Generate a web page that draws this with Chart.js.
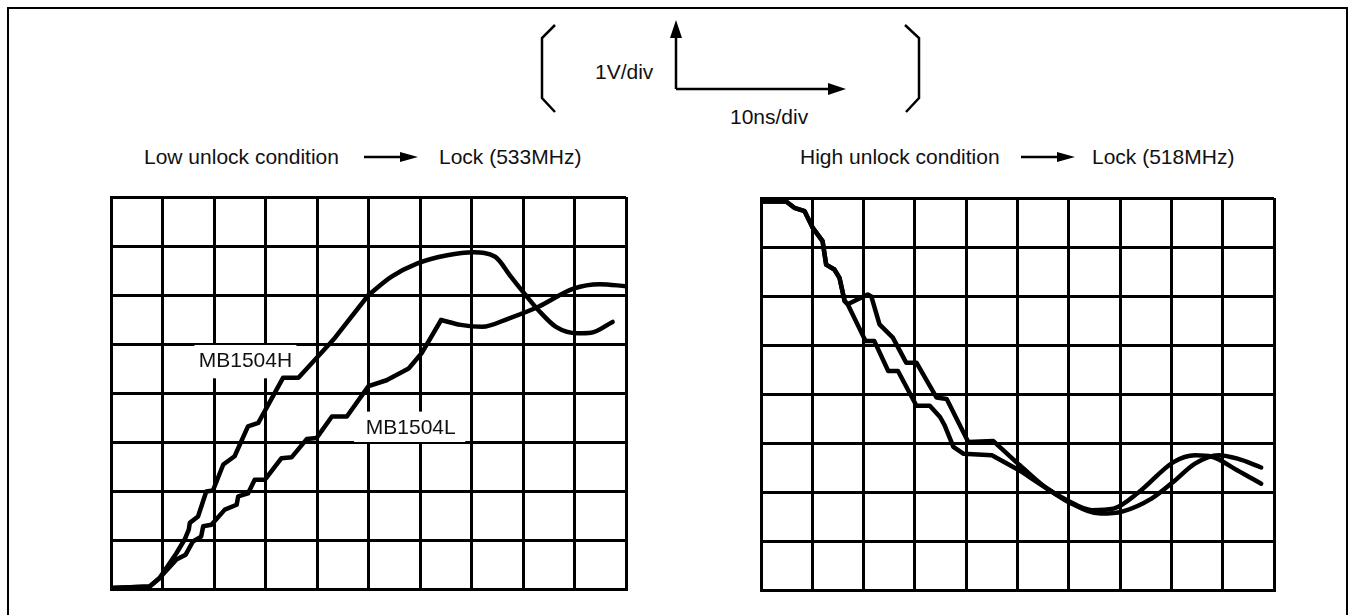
<!DOCTYPE html>
<html>
<head>
<meta charset="utf-8">
<script src="https://cdn.jsdelivr.net/npm/chart.js@4.4.1/dist/chart.umd.min.js"></script>
<style>
  html, body { margin: 0; padding: 0; background: #fff; overflow: hidden; }
  body { width: 1351px; height: 615px; position: relative; font-family: "Liberation Sans", Arial, sans-serif; }
  #frame { position: absolute; left: 7px; top: 7px; width: 1337px; height: 700px; border: 2px solid #000; }
  .txt { position: absolute; font-size: 21px; line-height: 24px; color: #111; white-space: nowrap; }
  canvas { position: absolute; }
  svg { position: absolute; left: 0; top: 0; }
</style>
</head>
<body>
<div id="frame"></div>

<svg width="1351" height="615">
  <g stroke="#000" stroke-width="2.5" fill="none">
    <polyline points="555,25 542,38 542,98 555,112" />
    <polyline points="905,25 919,38 919,98 906,112" />
    <line x1="676" y1="89" x2="676" y2="34" />
    <line x1="676" y1="89" x2="830" y2="89" />
    <line x1="364" y1="157" x2="404" y2="157" />
    <line x1="1021" y1="157" x2="1061" y2="157" />
  </g>
  <g fill="#000">
    <polygon points="676,20 670,38 682,38" />
    <polygon points="846,89 828,83 828,95" />
    <polygon points="418,157 400,152 400,162" />
    <polygon points="1075,157 1057,152 1057,162" />
  </g>
</svg>

<div class="txt" style="left:595px; top:60px;">1V/div</div>
<div class="txt" style="left:730px; top:105px;">10ns/div</div>
<div class="txt" style="left:144px; top:145px;">Low unlock condition</div>
<div class="txt" style="left:439px; top:145px;">Lock (533MHz)</div>
<div class="txt" style="left:800px; top:145px;">High unlock condition</div>
<div class="txt" style="left:1092px; top:145px;">Lock (518MHz)</div>

<canvas id="leftChart" width="523" height="400" style="left:107px; top:193px;"></canvas>
<canvas id="rightChart" width="521" height="400" style="left:757px; top:194px;"></canvas>

<script>
// Low unlock -> lock (533MHz), screen divisions (10 x 8)
const leftHX = [0, 0.75, 0.94, 1.27, 1.43, 1.51, 1.53, 1.69, 1.85, 1.98, 2.18, 2.4, 2.66, 2.86, 3.34, 3.64, 4.32, 5.0, 5.44, 5.94, 6.53, 7.04, 7.46, 7.76, 8.05, 8.3, 8.64, 9.06, 9.32, 9.74];
const leftHY = [0.02, 0.05, 0.22, 0.73, 1.01, 1.21, 1.35, 1.48, 1.99, 2.01, 2.54, 2.71, 3.32, 3.39, 4.31, 4.31, 5.09, 6.0, 6.37, 6.64, 6.81, 6.87, 6.78, 6.38, 6.0, 5.69, 5.35, 5.22, 5.23, 5.45];
const leftLX = [0, 0.75, 0.94, 1.27, 1.45, 1.59, 1.75, 1.79, 1.95, 2.21, 2.44, 2.47, 2.66, 2.79, 2.99, 3.31, 3.51, 3.8, 3.99, 4.29, 4.58, 5.0, 5.35, 5.78, 6.03, 6.41, 6.79, 7.21, 7.72, 8.3, 8.98, 9.49, 10];
const leftLY = [0.02, 0.05, 0.22, 0.6, 0.7, 0.97, 1.07, 1.28, 1.31, 1.62, 1.72, 1.89, 1.95, 2.23, 2.23, 2.67, 2.69, 3.06, 3.08, 3.52, 3.52, 4.14, 4.26, 4.5, 4.81, 5.49, 5.39, 5.35, 5.52, 5.76, 6.13, 6.22, 6.18];

// High unlock -> lock (518MHz)
const rightAX = [0, 0.49, 0.65, 0.85, 1.01, 1.2, 1.27, 1.43, 1.53, 1.63, 1.69, 2.08, 2.15, 2.31, 2.57, 2.83, 3.03, 3.42, 3.62, 4.04, 4.53, 5.04, 5.54, 5.95, 6.45, 6.87, 7.37, 8.04, 8.46, 8.79, 9.29, 9.75];
const rightAY = [7.93, 7.93, 7.8, 7.73, 7.39, 7.12, 6.64, 6.54, 6.37, 5.9, 5.83, 6.03, 5.99, 5.42, 5.15, 4.64, 4.64, 3.93, 3.9, 3.02, 3.04, 2.55, 2.1, 1.84, 1.63, 1.66, 2.0, 2.61, 2.75, 2.72, 2.44, 2.17];
const rightBX = [0, 0.49, 0.65, 0.85, 1.01, 1.2, 1.27, 1.43, 1.53, 1.63, 1.69, 2.02, 2.05, 2.21, 2.48, 2.67, 3.03, 3.29, 3.49, 3.58, 3.75, 3.95, 4.5, 5.04, 5.62, 6.04, 6.62, 7.04, 7.62, 8.04, 8.46, 8.92, 9.29, 9.75];
const rightBY = [7.93, 7.93, 7.8, 7.73, 7.39, 7.12, 6.64, 6.54, 6.37, 5.9, 5.83, 5.12, 5.08, 5.08, 4.47, 4.47, 3.76, 3.76, 3.53, 3.36, 2.92, 2.78, 2.75, 2.44, 2.04, 1.77, 1.56, 1.6, 1.87, 2.21, 2.58, 2.75, 2.68, 2.5];

// where each trace stops being stepped and becomes a smooth ringing curve
const smoothFrom = { leftH: 5.0, leftL: 6.41, rightA: 5.04, rightB: 5.04 };

const divX = [0, 10];
const divY = [0, 8];

const leftLabels = [
  { text: 'MB1504H', x: 2.61, y: 4.64, box: [1.62, 3.6, 4.3, 4.98] },
  { text: 'MB1504L', x: 5.82, y: 3.28, box: [4.72, 6.88, 3.0, 3.62] }
];

function pts(xs, ys) {
  return xs.map((x, i) => ({ x: x, y: ys[i] }));
}

function lineStyle(data, smooth) {
  return {
    data: data,
    showLine: true,
    borderColor: '#000',
    borderWidth: 4.5,
    pointRadius: 0,
    tension: smooth ? 0.4 : 0,
    cubicInterpolationMode: smooth ? 'monotone' : 'default',
    borderJoinStyle: 'round',
    borderCapStyle: 'round'
  };
}

// stepped part drawn straight, ringing tail drawn smooth
function trace(xs, ys, from) {
  const all = pts(xs, ys);
  return [
    lineStyle(all.filter(p => p.x <= from), false),
    lineStyle(all.filter(p => p.x >= from), true)
  ];
}

// white boxes + text labels placed in screen divisions
const labelPlugin = {
  id: 'traceLabels',
  beforeDatasetsDraw(chart, args, opts) {
    const items = opts.items || [];
    const ctx = chart.ctx;
    const sx = chart.scales.x, sy = chart.scales.y;
    ctx.save();
    items.forEach(it => {
      const x0 = sx.getPixelForValue(it.box[0]);
      const x1 = sx.getPixelForValue(it.box[1]);
      const y0 = sy.getPixelForValue(it.box[3]);
      const y1 = sy.getPixelForValue(it.box[2]);
      ctx.fillStyle = '#fff';
      ctx.fillRect(x0, y0, x1 - x0, y1 - y0);
      ctx.fillStyle = '#111';
      ctx.font = '21px "Liberation Sans", Arial, sans-serif';
      ctx.textAlign = 'center';
      ctx.textBaseline = 'middle';
      ctx.fillText(it.text, sx.getPixelForValue(it.x), sy.getPixelForValue(it.y));
    });
    ctx.restore();
  }
};

function scopeOptions(items) {
  return {
    responsive: false,
    animation: false,
    devicePixelRatio: 1,
    layout: { padding: 4 },
    plugins: {
      legend: { display: false },
      tooltip: { enabled: false },
      title: { display: false },
      traceLabels: { items: items }
    },
    scales: {
      x: {
        type: 'linear', min: divX[0], max: divX[1],
        ticks: { display: false, stepSize: 1 },
        grid: { color: '#000', lineWidth: 3, drawTicks: false },
        border: { display: true, color: '#000', width: 3 }
      },
      y: {
        type: 'linear', min: divY[0], max: divY[1],
        ticks: { display: false, stepSize: 1 },
        grid: { color: '#000', lineWidth: 3, drawTicks: false },
        border: { display: true, color: '#000', width: 3 }
      }
    }
  };
}

new Chart(document.getElementById('leftChart'), {
  type: 'scatter',
  data: { datasets: [...trace(leftHX, leftHY, smoothFrom.leftH), ...trace(leftLX, leftLY, smoothFrom.leftL)] },
  options: scopeOptions(leftLabels),
  plugins: [labelPlugin]
});

new Chart(document.getElementById('rightChart'), {
  type: 'scatter',
  data: { datasets: [...trace(rightAX, rightAY, smoothFrom.rightA), ...trace(rightBX, rightBY, smoothFrom.rightB)] },
  options: scopeOptions([]),
  plugins: [labelPlugin]
});
</script>
</body>
</html>
